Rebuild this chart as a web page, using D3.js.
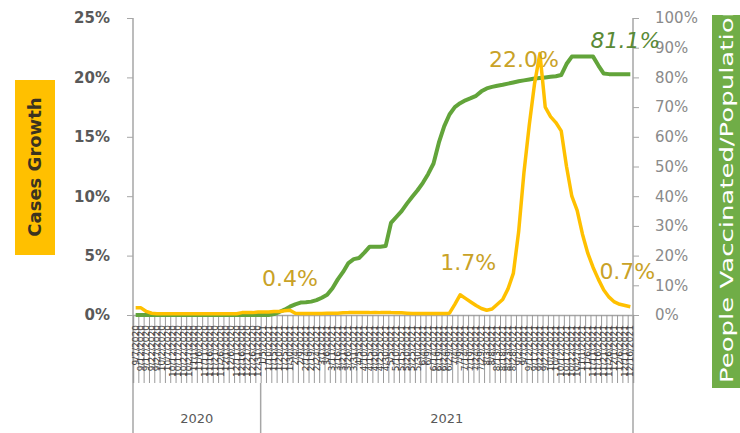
<!DOCTYPE html>
<html>
<head>
<meta charset="utf-8">
<script src="https://cdn.jsdelivr.net/npm/d3@7"></script>
<style>
  body { margin: 0; background: #fff; }
  svg { display: block; font-family: "DejaVu Sans", sans-serif; }
</style>
</head>
<body>
<svg width="740" height="433"></svg>
<script>
// category labels (5-day snapshots)
var dates = [
  "9/7/2020","9/12/2020","9/17/2020","9/22/2020","9/27/2020",
  "10/2/2020","10/7/2020","10/12/2020","10/17/2020","10/22/2020","10/27/2020",
  "11/1/2020","11/6/2020","11/11/2020","11/16/2020","11/21/2020","11/26/2020",
  "12/1/2020","12/6/2020","12/11/2020","12/16/2020","12/21/2020","12/26/2020","12/31/2020",
  "1/5/2021","1/10/2021","1/15/2021","1/20/2021","1/25/2021","1/30/2021",
  "2/4/2021","2/9/2021","2/14/2021","2/19/2021","2/24/2021",
  "3/1/2021","3/6/2021","3/11/2021","3/16/2021","3/21/2021","3/26/2021","3/31/2021",
  "4/5/2021","4/10/2021","4/15/2021","4/20/2021","4/25/2021","4/30/2021",
  "5/5/2021","5/10/2021","5/15/2021","5/20/2021","5/25/2021","5/30/2021",
  "6/4/2021","6/9/2021","6/14/2021","6/19/2021","6/24/2021","6/29/2021",
  "7/4/2021","7/9/2021","7/14/2021","7/19/2021","7/24/2021","7/29/2021",
  "8/3/2021","8/8/2021","8/13/2021","8/18/2021","8/23/2021","8/28/2021",
  "9/2/2021","9/7/2021","9/12/2021","9/17/2021","9/22/2021","9/27/2021",
  "10/2/2021","10/7/2021","10/12/2021","10/17/2021","10/22/2021","10/27/2021",
  "11/1/2021","11/6/2021","11/11/2021","11/16/2021","11/21/2021","11/26/2021",
  "12/1/2021","12/6/2021","12/11/2021","12/16/2021"
];
var years = ["2020", "2021"];
var yearCounts = [24, 70];

// cases growth, % (left axis)
var casesGrowth = [
  0.6,0.6,0.3,0.15,0.1,0.1,0.1,0.1,0.1,0.1,
  0.1,0.1,0.1,0.1,0.1,0.1,0.1,0.1,0.1,0.1,
  0.2,0.2,0.2,0.25,0.25,0.25,0.3,0.3,0.35,0.4,
  0.15,0.12,0.12,0.12,0.12,0.12,0.15,0.15,0.15,0.18,
  0.2,0.2,0.2,0.2,0.2,0.22,0.2,0.2,0.2,0.18,
  0.18,0.15,0.12,0.12,0.12,0.12,0.12,0.12,0.12,0.15,
  0.9,1.7,1.4,1.1,0.8,0.55,0.4,0.5,0.9,1.3,
  2.2,3.5,7.0,12.0,16.0,19.5,22.0,17.5,16.7,16.2,
  15.5,12.5,10.0,8.8,6.8,5.2,4.0,3.0,2.1,1.5,
  1.1,0.9,0.8,0.7
];

// people vaccinated / population, % (right axis)
var vaccinated = [
  0,0,0,0,0,0,0,0,0,0,
  0,0,0,0,0,0,0,0,0,0,
  0,0,0,0,0,0,0.3,1.0,1.8,2.8,
  3.6,4.2,4.3,4.5,5.0,5.8,6.8,9.0,12.0,14.5,
  17.5,18.8,19.2,21.0,23.0,23.0,23.0,23.2,31.0,33.0,
  35.0,37.5,39.8,42.0,44.5,47.5,51.0,58.0,63.5,67.5,
  70.0,71.3,72.3,73.0,73.8,75.3,76.3,76.8,77.2,77.5,
  77.9,78.3,78.7,79.0,79.3,79.6,79.8,80.0,80.2,80.4,
  80.8,84.5,87.0,87.0,87.0,87.0,87.0,84.0,81.3,81.1,
  81.1,81.1,81.1,81.1
];

var leftTicks = [0, 5, 10, 15, 20, 25];
var rightTicks = [0, 10, 20, 30, 40, 50, 60, 70, 80, 90, 100];

// labelled points: index, series, text, label offset
var callouts = [
  { i: 29, s: "cases", text: "0.4%", dx: 0, dy: -32 },
  { i: 61, s: "cases", text: "1.7%", dx: 8, dy: -33 },
  { i: 76, s: "cases", text: "22.0%", dx: -16, dy: 6 },
  { i: 93, s: "cases", text: "0.7%", dx: -3, dy: -35 },
  { i: 93, s: "vacc", text: "81.1%", dx: -5, dy: -34 }
];

var svg = d3.select("svg");
var plotL = 133, plotR = 633, plotT = 18, plotB = 315;
var yellow = "#FFC000", green = "#62A43A", axisGrey = "#a6a6a6";

var x = d3.scaleBand().domain(d3.range(dates.length)).range([plotL, plotR]);
var xEdge = d3.scaleLinear().domain([0, dates.length]).range([plotL, plotR]);
var yL = d3.scaleLinear().domain([0, 25]).range([plotB, plotT]);
var yR = d3.scaleLinear().domain([0, 100]).range([plotB, plotT]);
var cx = function(i) { return x(i) + x.bandwidth() / 2; };

// axis titles
svg.append("rect").attr("x", 15).attr("y", 80).attr("width", 40).attr("height", 175).attr("fill", "#FFC000");
svg.append("text")
    .attr("transform", "translate(35,167) rotate(-90)")
    .attr("text-anchor", "middle").attr("dy", "0.35em")
    .attr("font-size", 18).attr("font-weight", "bold").attr("fill", "#3b3320")
    .text("Cases Growth");

svg.append("clipPath").attr("id", "rclip")
  .append("rect").attr("x", 712).attr("y", 15).attr("width", 40).attr("height", 373);
svg.append("rect").attr("x", 712).attr("y", 15).attr("width", 40).attr("height", 373).attr("fill", "#70AD47");
svg.append("g").attr("clip-path", "url(#rclip)")
  .append("text")
    .attr("transform", "translate(727,383) rotate(-90)")
    .attr("dy", "0.35em")
    .attr("font-size", 18).attr("fill", "#fff")
    .attr("textLength", 382).attr("lengthAdjust", "spacingAndGlyphs")
    .text("People Vaccinated/Population");

// left axis
var gL = svg.append("g").attr("transform", "translate(" + plotL + ",0)")
    .call(d3.axisLeft(yL).tickValues(leftTicks).tickFormat(d => d + "%").tickSize(6).tickPadding(17));
gL.select(".domain").remove();
gL.selectAll("line").attr("stroke", axisGrey);
gL.selectAll("text").attr("font-size", 15).attr("fill", "#595959")
    .attr("font-family", "DejaVu Sans").attr("font-weight", "bold");

// right axis
var gR = svg.append("g").attr("transform", "translate(" + plotR + ",0)")
    .call(d3.axisRight(yR).tickValues(rightTicks).tickFormat(d => d + "%").tickSize(6).tickPadding(16));
gR.select(".domain").remove();
gR.selectAll("line").attr("stroke", axisGrey);
gR.selectAll("text").attr("font-size", 15).attr("fill", "#8a8a8a").attr("font-family", "DejaVu Sans");

// vertical axis lines running down through the category block
svg.append("line").attr("x1", plotL).attr("x2", plotL).attr("y1", plotT).attr("y2", 433).attr("stroke", axisGrey).attr("stroke-width", 1.5);
svg.append("line").attr("x1", plotR).attr("x2", plotR).attr("y1", plotT).attr("y2", 433).attr("stroke", axisGrey).attr("stroke-width", 1.5);

// category ticks and labels
var gX = svg.append("g").attr("transform", "translate(0," + plotB + ")")
    .call(d3.axisBottom(xEdge).tickValues(d3.range(dates.length + 1)).tickFormat("").tickSize(68));
gX.select(".domain").attr("stroke", axisGrey).attr("stroke-width", 1.5);
gX.selectAll("line").attr("stroke", "#9a9a9a");

svg.append("g").selectAll("text")
  .data(dates)
  .enter().append("text")
    .attr("transform", (d, i) => "translate(" + (cx(i) + 3) + "," + (plotB + 10) + ") rotate(-90)")
    .attr("text-anchor", "end")
    .attr("font-size", 9)
    .attr("fill", "#404040")
    .text(d => d);

// year groups
var start = 0;
years.forEach(function(yr, k) {
  var end = start + yearCounts[k];
  if (k > 0) {
    svg.append("line").attr("x1", xEdge(start)).attr("x2", xEdge(start))
        .attr("y1", plotB + 68).attr("y2", 433).attr("stroke", axisGrey).attr("stroke-width", 1.5);
  }
  svg.append("text")
      .attr("x", (xEdge(start) + xEdge(end)) / 2).attr("y", 423)
      .attr("text-anchor", "middle").attr("font-size", 13).attr("fill", "#595959")
      .text(yr);
  start = end;
});

// lines
var lineR = d3.line().x((d, i) => cx(i)).y(d => yR(d)).curve(d3.curveLinear);
var lineL = d3.line().x((d, i) => cx(i)).y(d => yL(d)).curve(d3.curveLinear);

svg.append("path").datum(vaccinated)
    .attr("d", lineR).attr("fill", "none").attr("stroke", green)
    .attr("stroke-width", 4).attr("stroke-linejoin", "round");
svg.append("path").datum(casesGrowth)
    .attr("d", lineL).attr("fill", "none").attr("stroke", yellow)
    .attr("stroke-width", 3.5).attr("stroke-linejoin", "round");

// data labels
svg.append("g").selectAll("text")
  .data(callouts)
  .enter().append("text")
    .attr("x", d => cx(d.i) + d.dx)
    .attr("y", d => (d.s === "cases" ? yL(casesGrowth[d.i]) : yR(vaccinated[d.i])) + d.dy)
    .attr("dy", "0.35em")
    .attr("text-anchor", "middle")
    .attr("font-size", 22)
    .attr("font-style", d => d.s === "vacc" ? "italic" : null)
    .attr("fill", d => d.s === "vacc" ? "#5a8a36" : "#C9A227")
    .text(d => d.text);
</script>
</body>
</html>
